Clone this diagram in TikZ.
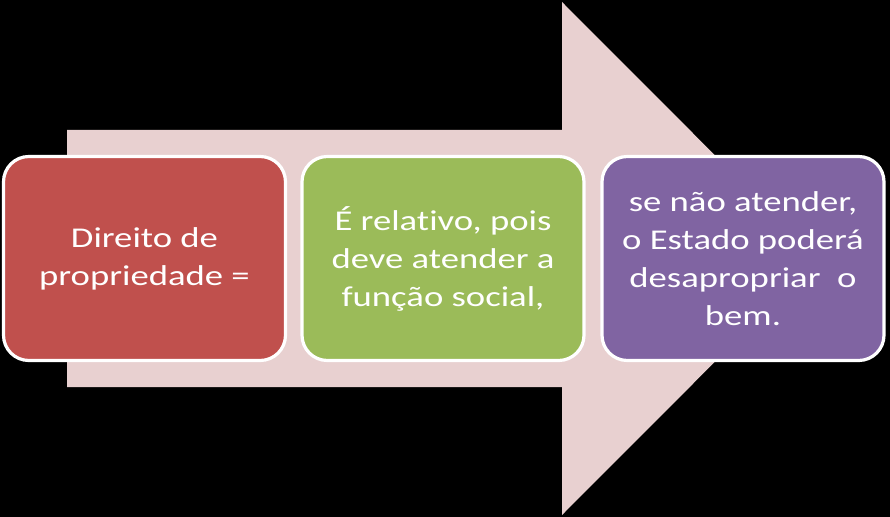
\documentclass[tikz,border=0pt]{standalone}
\usepackage{fontspec}
\setmainfont{Carlito}[FakeStretch=1.28, Ligatures=NoCommon]
\usepackage{tikz}
\usepackage{xcolor}

\definecolor{setapink}{HTML}{E8D0D0}
\definecolor{vermelho}{HTML}{C0504D}
\definecolor{verde}{HTML}{9BBB59}
\definecolor{roxo}{HTML}{8064A2}

\tikzset{
  caixa/.style={draw=white, line width=2.4pt, rounded corners=19pt,
    minimum width=211.5pt, minimum height=153pt, inner sep=0.75pt,
    align=center, text=white,
    font=\fontsize{21.5}{28.5}\selectfont}
}

\begin{document}
\begin{tikzpicture}[x=0.75pt,y=0.75pt,yscale=-1,xscale=1]

\useasboundingbox (0,0) rectangle (890,517);
\fill [black] (0,0) rectangle (890,517);

% seta de fundo
\fill [setapink] (67,130) -- (562,130) -- (562,2) -- (818,258.5) -- (562,515) -- (562,387) -- (67,387) -- cycle ;

\draw (144.5,258.5) node (direito) [caixa, fill=vermelho] {Direito de\\propriedade =};

\draw (443,258.5) node (relativo) [caixa, fill=verde] {É relativo, pois\\deve atender a\\função social,};

\draw (743,258.5) node (desapropriar) [caixa, fill=roxo] {se não atender,\\o Estado poderá\\desapropriar~ o\\bem.};

\end{tikzpicture}
\end{document}
